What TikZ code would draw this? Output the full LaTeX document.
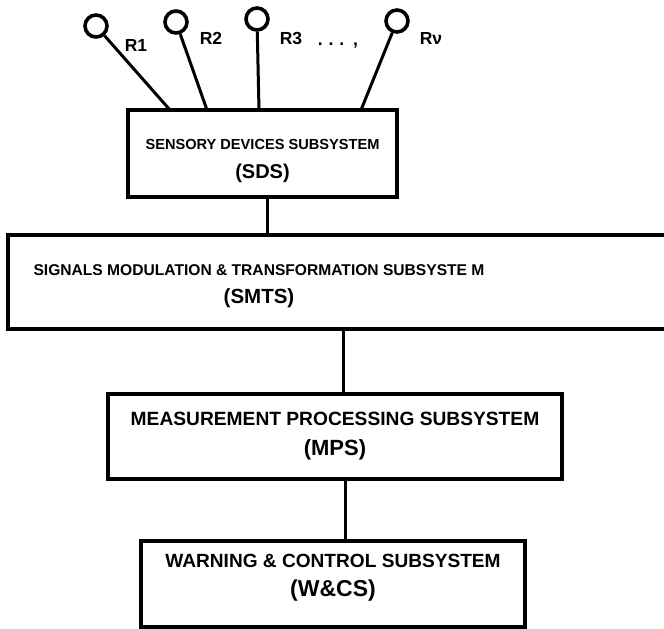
\documentclass[tikz,border=0pt]{standalone}
\usepackage{fontspec}
\setmainfont{Liberation Sans}
\usepackage{tikz}
\usetikzlibrary{shapes,positioning}
\tikzset{sub/.style={rectangle,draw,line width=3.2pt,align=center,inner sep=0pt},
         sens/.style={circle,draw,line width=3.6pt,minimum size=22pt,inner sep=0pt},
         lbl/.style={font=\bfseries\fontsize{17.5}{20}\selectfont,inner sep=0pt}}

\begin{document}
\begin{tikzpicture}[x=1pt,y=-1pt,line width=3pt]
    \useasboundingbox (0,0) rectangle (664,629);
    \clip (0,0) rectangle (664,629);

    \node[sub,minimum width=269pt,minimum height=87pt,text height=54pt,font=\bfseries\fontsize{14.6}{29}\selectfont] (sds) at (262.5,153.5)
        {SENSORY DEVICES SUBSYSTEM\\{\fontsize{20}{29}\selectfont (SDS)}};
    \node[sub,minimum width=680pt,minimum height=94pt] (smts) at (348,282) {};
    \node[align=center,inner sep=0pt,font=\bfseries\fontsize{15.6}{28}\selectfont] (smtstxt) at (259,286)
        {SIGNALS MODULATION \& TRANSFORMATION SUBSYSTE M\\{\fontsize{20.5}{28}\selectfont (SMTS)}};
    \node[sub,minimum width=454pt,minimum height=85pt,font=\bfseries\fontsize{19.2}{30}\selectfont] (mps) at (335,436.5)
        {MEASUREMENT PROCESSING SUBSYSTEM\\{\fontsize{22}{30}\selectfont (MPS)\hspace{14pt}}};
    \node[sub,minimum width=384pt,minimum height=86pt,text depth=18pt,font=\bfseries\fontsize{19.1}{29}\selectfont] (wcs) at (333,584)
        {WARNING \& CONTROL SUBSYSTEM\\{\fontsize{23}{29}\selectfont (W\&CS)}};

    \node[sens] (r1) at (96,26) {};
    \node[sens] (r2) at (176,22) {};
    \node[sens] (r3) at (257,19) {};
    \node[sens] (rv) at (397,21) {};

    \node[lbl] (l1) at (136,45) {R1};
    \node[lbl] (l2) at (211,38) {R2};
    \node[lbl] (l3) at (291,38) {R3};
    \node[lbl] (dots) at (338,46) {.\,\,.\,\,.\hspace{9pt},};
    \node[lbl] (lv) at (431,38) {Rν};

    \coordinate (t1) at (170,110);
    \coordinate (t2) at (207,110);
    \coordinate (t3) at (259,110);
    \coordinate (tv) at (361,110);

    \draw (r1) -- (t1);
    \draw (r2) -- (t2);
    \draw (r3) -- (t3);
    \draw (rv) -- (tv);

    \draw ([xshift=5pt]sds.south) -- ([xshift=5pt]sds.south |- smts.north);
    \draw ([xshift=8pt]mps.north |- smts.south) -- ([xshift=8pt]mps.north);
    \draw ([xshift=10pt]mps.south) -- ([xshift=10pt]mps.south |- wcs.north);
\end{tikzpicture}
\end{document}
